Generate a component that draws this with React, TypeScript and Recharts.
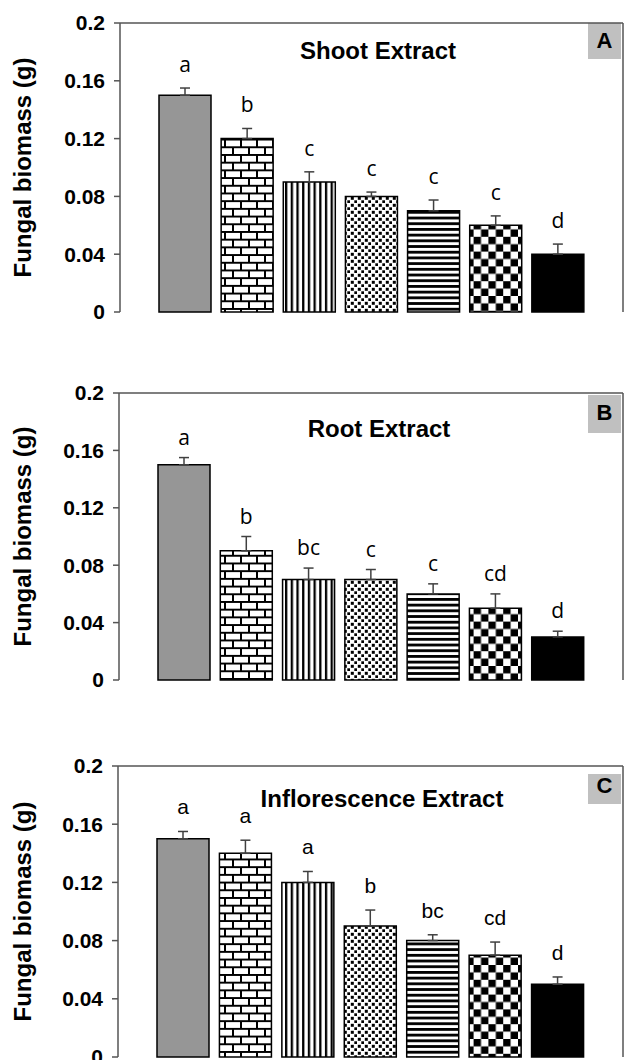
import React from 'react';
import {
  BarChart,
  Bar,
  XAxis,
  YAxis,
  Cell,
  ErrorBar,
  LabelList,
  ReferenceLine,
} from 'recharts';

// treatments (not labelled on the figure)
const treatments = ['T1', 'T2', 'T3', 'T4', 'T5', 'T6', 'T7'];

const shootMeans = [0.15, 0.12, 0.09, 0.08, 0.07, 0.06, 0.04];
const shootErrors = [0.005, 0.007, 0.007, 0.003, 0.0075, 0.0065, 0.007];
const shootLetters = ['a', 'b', 'c', 'c', 'c', 'c', 'd'];

const rootMeans = [0.15, 0.09, 0.07, 0.07, 0.06, 0.05, 0.03];
const rootErrors = [0.005, 0.01, 0.008, 0.007, 0.007, 0.01, 0.004];
const rootLetters = ['a', 'b', 'bc', 'c', 'c', 'cd', 'd'];

const inflMeans = [0.15, 0.14, 0.12, 0.09, 0.08, 0.07, 0.05];
const inflErrors = [0.005, 0.009, 0.0075, 0.011, 0.004, 0.009, 0.005];
const inflLetters = ['a', 'a', 'a', 'b', 'bc', 'cd', 'd'];

const yTicks = [0, 0.04, 0.08, 0.12, 0.16, 0.2];

const ARIAL = '"Liberation Sans", Arial, sans-serif';
const AXIS = '#555';

const buildRows = (means: number[], errors: number[], letters: string[]) =>
  treatments.map((t, i) => ({
    name: t,
    mean: means[i],
    err: [0, errors[i]],
    e: errors[i],
    letter: letters[i],
  }));

const Patterns = ({ id }: { id: string }) => (
  <defs>
    <pattern id={`brick-${id}`} patternUnits="userSpaceOnUse" width={16} height={15.4}>
      <rect width={16} height={15.4} fill="#fff" />
      <path d="M0 1 H16 M0 8.7 H16 M1 1 V8.7 M9 8.7 V15.4" stroke="#000" strokeWidth={2} />
    </pattern>
    <pattern id={`vert-${id}`} patternUnits="userSpaceOnUse" width={5.7} height={10}>
      <rect width={5.7} height={10} fill="#fff" />
      <rect x={0} width={2.3} height={10} fill="#000" />
    </pattern>
    <pattern id={`dots-${id}`} patternUnits="userSpaceOnUse" width={7} height={7}>
      <rect width={7} height={7} fill="#fff" />
      <rect x={0.8} y={0.8} width={3} height={3} fill="#000" />
      <rect x={4.3} y={4.3} width={3} height={3} fill="#000" />
    </pattern>
    <pattern id={`horiz-${id}`} patternUnits="userSpaceOnUse" width={10} height={5.7}>
      <rect width={10} height={5.7} fill="#fff" />
      <rect y={0} width={10} height={2.8} fill="#000" />
    </pattern>
    <pattern id={`check-${id}`} patternUnits="userSpaceOnUse" width={14.8} height={14.8}>
      <rect width={14.8} height={14.8} fill="#fff" />
      <rect x={0} y={0} width={7.4} height={7.4} fill="#000" />
      <rect x={7.4} y={7.4} width={7.4} height={7.4} fill="#000" />
    </pattern>
  </defs>
);

const fillsFor = (id: string) => [
  '#969696',
  `url(#brick-${id})`,
  `url(#vert-${id})`,
  `url(#dots-${id})`,
  `url(#horiz-${id})`,
  `url(#check-${id})`,
  '#000',
];

type PanelProps = {
  id: string;
  title: string;
  tag: string;
  means: number[];
  errors: number[];
  letters: string[];
  plotTop: number;
  plotH: number;
  axisX: number;
  titleX: number;
  titleY: number;
  tagY: number;
  tagH: number;
  tagTextY: number;
  letterGap: number;
  letterFont: string;
};

function Panel(p: PanelProps) {
  const data = buildRows(p.means, p.errors, p.letters);
  const mTop = 23;
  const height = mTop + p.plotH + 10;
  const fills = fillsFor(p.id);

  const YTitle = (props: any) => {
    const vb = props.viewBox || {};
    const cx = 22;
    const cy = (vb.y ?? mTop) + (vb.height ?? p.plotH) / 2;
    return (
      <text
        x={cx}
        y={cy}
        transform={`rotate(-90 ${cx} ${cy})`}
        textAnchor="middle"
        dominantBaseline="central"
        fontFamily={ARIAL}
        fontWeight="bold"
        fontSize={24}
        fill="#000"
      >
        Fungal biomass (g)
      </text>
    );
  };

  const renderLetter = (props: any) => {
    const { x, y, width, height, value, index } = props;
    const row = data[index];
    const pxPerUnit = Number(height) / row.mean;
    const yTop = Number(y) - row.e * pxPerUnit;
    return (
      <text
        x={Number(x) + Number(width) / 2}
        y={yTop - p.letterGap}
        textAnchor="middle"
        fontFamily={p.letterFont}
        fontSize={21}
        fill="#000"
      >
        {value}
      </text>
    );
  };

  return (
    <div style={{ position: 'absolute', left: 0, top: p.plotTop - mTop }}>
      <BarChart
        width={624}
        height={height}
        data={data}
        margin={{ top: mTop, right: 0, left: 0, bottom: 10 }}
      >
        <Patterns id={p.id} />
        <XAxis
          dataKey="name"
          height={0}
          tick={false}
          tickLine={false}
          axisLine={{ stroke: AXIS, strokeWidth: 1.5 }}
          padding={{ left: 34, right: 34 }}
        />
        <YAxis
          domain={[0, 0.2]}
          ticks={yTicks}
          interval={0}
          width={p.axisX}
          tickSize={6}
          tickMargin={9}
          tickFormatter={(v: number) => String(v)}
          tick={{ fontSize: 21, fontWeight: 'bold', fill: '#000', fontFamily: ARIAL }}
          axisLine={{ stroke: AXIS, strokeWidth: 1.5 }}
          tickLine={{ stroke: AXIS, strokeWidth: 1.5 }}
          label={<YTitle />}
        />
        <YAxis
          yAxisId="frame"
          orientation="right"
          width={1}
          tick={false}
          tickLine={false}
          axisLine={{ stroke: AXIS, strokeWidth: 1.5 }}
        />
        <ReferenceLine y={0.2} stroke={AXIS} strokeWidth={1.5} />
        <Bar dataKey="mean" barSize={52} stroke="#000" strokeWidth={1.5} isAnimationActive={false}>
          {data.map((d, i) => (
            <Cell key={d.name} fill={fills[i]} />
          ))}
          <ErrorBar dataKey="err" direction="y" width={5} stroke="#404040" strokeWidth={1.5} />
          <LabelList dataKey="letter" content={renderLetter} />
        </Bar>
        <text
          x={p.titleX}
          y={p.titleY}
          textAnchor="middle"
          fontFamily={ARIAL}
          fontWeight="bold"
          fontSize={24}
          fill="#000"
        >
          {p.title}
        </text>
        <rect x={588} y={p.tagY} width={33} height={p.tagH} fill="#c0c0c0" />
        <text
          x={604.5}
          y={p.tagTextY}
          textAnchor="middle"
          fontFamily={ARIAL}
          fontWeight="bold"
          fontSize={22}
          fill="#000"
        >
          {p.tag}
        </text>
      </BarChart>
    </div>
  );
}

export default function App() {
  return (
    <div
      style={{
        position: 'absolute',
        left: 0,
        top: 0,
        width: 624,
        height: 1060,
        overflow: 'hidden',
        background: '#fff',
      }}
    >
      <Panel
        id="a"
        title="Shoot Extract"
        tag="A"
        means={shootMeans}
        errors={shootErrors}
        letters={shootLetters}
        plotTop={23}
        plotH={289}
        axisX={120}
        titleX={378}
        titleY={59}
        tagY={23}
        tagH={36}
        tagTextY={48}
        letterGap={16}
        letterFont={'"Open Sans", sans-serif'}
      />
      <Panel
        id="b"
        title="Root Extract"
        tag="B"
        means={rootMeans}
        errors={rootErrors}
        letters={rootLetters}
        plotTop={393}
        plotH={287}
        axisX={119}
        titleX={379}
        titleY={67}
        tagY={25}
        tagH={38}
        tagTextY={50}
        letterGap={13}
        letterFont={'"Open Sans", sans-serif'}
      />
      <Panel
        id="c"
        title="Inflorescence Extract"
        tag="C"
        means={inflMeans}
        errors={inflErrors}
        letters={inflLetters}
        plotTop={766}
        plotH={291}
        axisX={118}
        titleX={382}
        titleY={64}
        tagY={31}
        tagH={30}
        tagTextY={50}
        letterGap={17}
        letterFont={ARIAL}
      />
    </div>
  );
}
